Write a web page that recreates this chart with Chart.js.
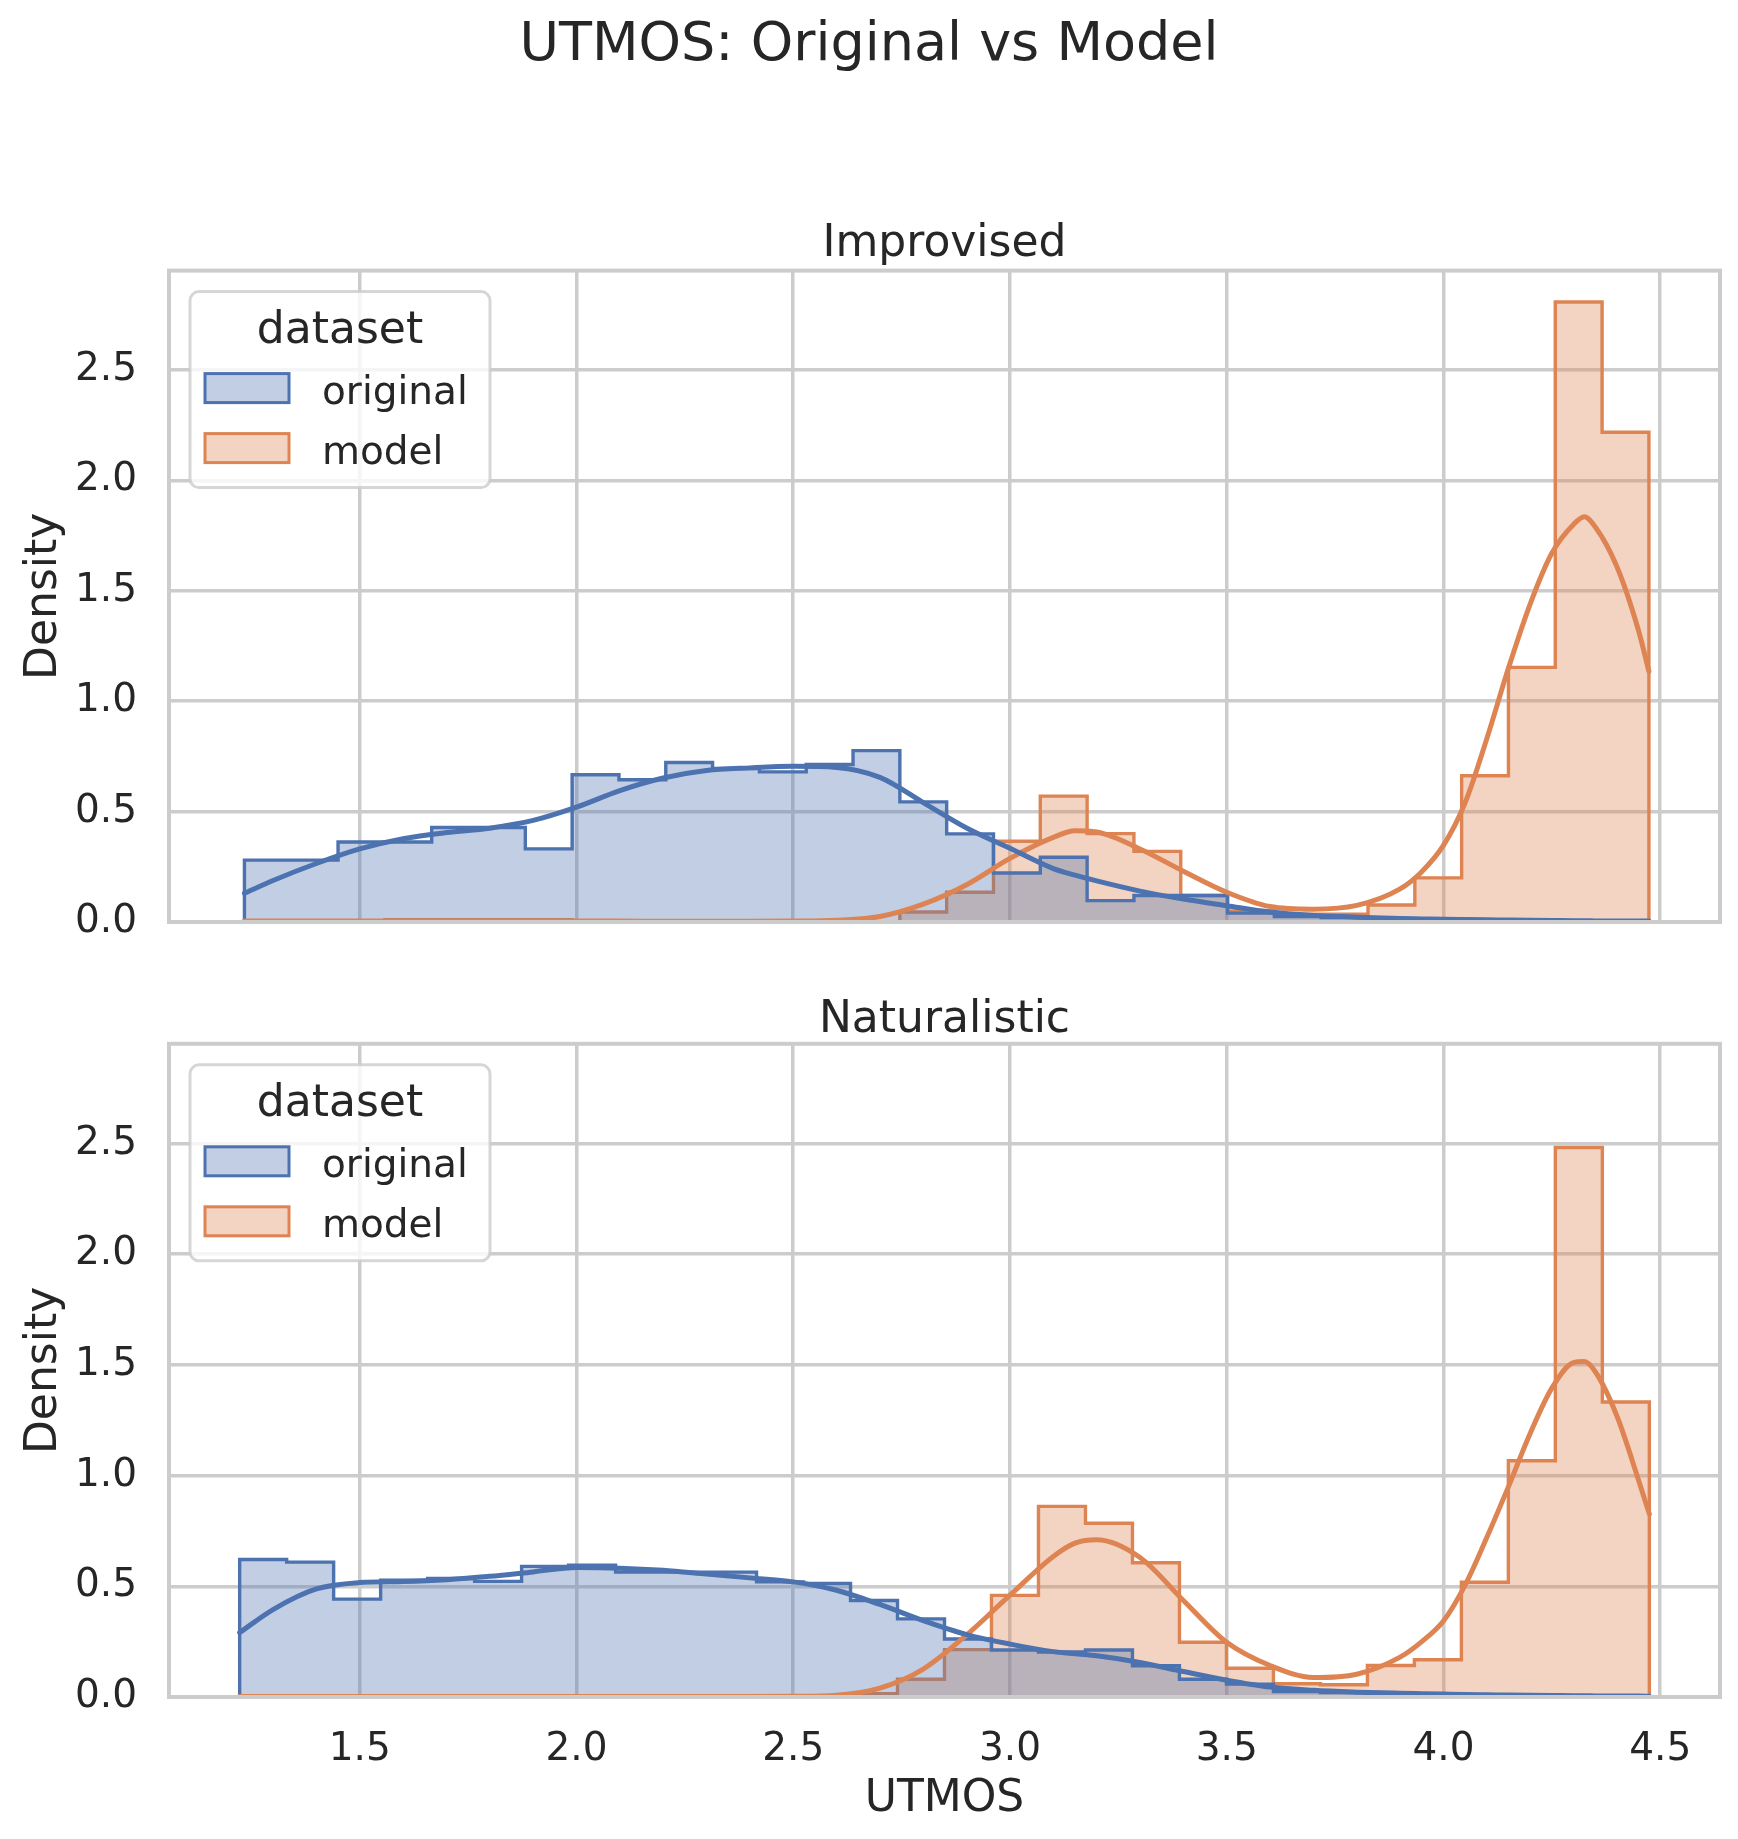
<!DOCTYPE html>
<html lang="en">
  <head>
    <meta charset="UTF-8" />
    <title>UTMOS: Original vs Model</title>
    <script src="https://cdn.jsdelivr.net/npm/chart.js"></script>
    <style>
      html, body { margin: 0; padding: 0; background: #fff; }
      #page { position: relative; width: 1738px; height: 1839px; }
      canvas { position: absolute; left: 0; }
      #improvisedChart { top: 0; }
      #naturalisticChart { top: 982px; }
    </style>
  </head>
  <body>
    <div id="page">
      <canvas id="improvisedChart" width="1738" height="982"></canvas>
      <canvas id="naturalisticChart" width="1738" height="857"></canvas>
    </div>

    <script>
      // ---- data ----
      const xTicks = [1.5, 2.0, 2.5, 3.0, 3.5, 4.0, 4.5];
      const yTicks = [0.0, 0.5, 1.0, 1.5, 2.0, 2.5];

      // histogram bins (30 per panel)
      const improvisedBinStart = 1.234;
      const improvisedBinWidth = 0.108;
      const naturalisticBinStart = 1.223;
      const naturalisticBinWidth = 0.1084;

      const improvisedOriginal = [0.28, 0.28, 0.362, 0.362, 0.428, 0.428, 0.331, 0.667, 0.644, 0.722,
        0.695, 0.68, 0.713, 0.776, 0.544, 0.399, 0.222, 0.293, 0.097, 0.12,
        0.12, 0.04, 0.025, 0.02, 0.012, 0.01, 0.008, 0.005, 0.004, 0.003];
      const improvisedModel = [0, 0, 0, 0.01, 0.01, 0.01, 0.01, 0, 0, 0,
        0, 0, 0, 0, 0.045, 0.135, 0.366, 0.57, 0.4, 0.32,
        0.12, 0.05, 0.035, 0.035, 0.077, 0.2, 0.662, 1.153, 2.808, 2.218];

      const naturalisticOriginal = [0.621, 0.609, 0.442, 0.527, 0.535, 0.522, 0.59, 0.595, 0.564, 0.564,
        0.564, 0.52, 0.513, 0.436, 0.353, 0.262, 0.212, 0.203, 0.212, 0.141,
        0.08, 0.058, 0.025, 0.02, 0.017, 0.015, 0.01, 0.008, 0.005, 0.004];
      const naturalisticModel = [0, 0, 0, 0, 0, 0, 0, 0, 0, 0,
        0, 0, 0.005, 0.015, 0.08, 0.214, 0.459, 0.861, 0.785, 0.606,
        0.247, 0.13, 0.06, 0.055, 0.142, 0.168, 0.518, 1.067, 2.482, 1.332];

      // kde curves
      const improvisedKdeX = [1.234, 1.3, 1.4, 1.5, 1.6, 1.7, 1.8, 1.9, 2.0, 2.1, 2.2, 2.3, 2.4, 2.5,
        2.6, 2.7, 2.8, 2.9, 3.0, 3.1, 3.15, 3.2, 3.3, 3.4, 3.5, 3.6, 3.7, 3.8, 3.9, 3.95, 4.0,
        4.05, 4.1, 4.15, 4.2, 4.25, 4.3, 4.325, 4.35, 4.4, 4.45, 4.474];
      const improvisedOriginalKde = [0.13, 0.188, 0.265, 0.331, 0.377, 0.405, 0.425, 0.46, 0.52, 0.595,
        0.652, 0.686, 0.698, 0.705, 0.7, 0.655, 0.541, 0.426, 0.334, 0.242, 0.212, 0.186, 0.14, 0.104,
        0.074, 0.045, 0.03, 0.022, 0.016, 0.014, 0.012, 0.011, 0.01, 0.009, 0.008, 0.007, 0.006, 0.006,
        0.005, 0.005, 0.004, 0.004];
      const improvisedModelKde = [0.004, 0.004, 0.004, 0.005, 0.005, 0.005, 0.005, 0.005, 0.004, 0.004,
        0.003, 0.003, 0.003, 0.004, 0.008, 0.025, 0.081, 0.169, 0.288, 0.383, 0.413, 0.408, 0.331,
        0.23, 0.135, 0.07, 0.058, 0.075, 0.15, 0.228, 0.347, 0.54, 0.83, 1.15, 1.44, 1.67, 1.8, 1.835,
        1.79, 1.61, 1.32, 1.135];

      const naturalisticKdeX = [1.223, 1.3, 1.4, 1.5, 1.6, 1.7, 1.8, 1.9, 2.0, 2.1, 2.2, 2.3, 2.4, 2.5,
        2.6, 2.7, 2.8, 2.9, 3.0, 3.1, 3.15, 3.2, 3.3, 3.4, 3.5, 3.6, 3.7, 3.8, 3.9, 3.95, 4.0,
        4.05, 4.1, 4.15, 4.2, 4.25, 4.3, 4.325, 4.35, 4.4, 4.45, 4.475];
      const naturalisticOriginalKde = [0.291, 0.395, 0.488, 0.517, 0.522, 0.53, 0.545, 0.565, 0.585, 0.582,
        0.572, 0.555, 0.538, 0.52, 0.482, 0.418, 0.345, 0.282, 0.239, 0.205, 0.195, 0.186, 0.156,
        0.115, 0.076, 0.045, 0.03, 0.022, 0.017, 0.015, 0.013, 0.011, 0.01, 0.009, 0.008, 0.007, 0.006,
        0.006, 0.005, 0.005, 0.004, 0.003];
      const naturalisticModelKde = [0.002, 0.002, 0.002, 0.002, 0.002, 0.002, 0.002, 0.002, 0.002, 0.002,
        0.002, 0.002, 0.002, 0.003, 0.008, 0.04, 0.126, 0.28, 0.46, 0.635, 0.695, 0.71, 0.63, 0.436,
        0.247, 0.142, 0.088, 0.103, 0.18, 0.25, 0.343, 0.505, 0.72, 0.95, 1.19, 1.395, 1.51, 1.515,
        1.47, 1.27, 0.98, 0.826];

      // ---- styling ----
      const BLUE = "#4c72b0";
      const ORANGE = "#dd8452";
      const BLUE_FILL = "rgba(76, 114, 176, 0.35)";
      const ORANGE_FILL = "rgba(221, 132, 82, 0.35)";
      const GRID = "#cccccc";
      const TEXT = "#262626";

      Chart.defaults.font.family = '"DejaVu Sans", sans-serif';
      Chart.defaults.color = TEXT;

      function stepPoints(start, width, heights) {
        const pts = [{ x: start, y: 0 }];
        heights.forEach((h, i) => pts.push({ x: start + i * width, y: h }));
        const end = start + heights.length * width;
        pts.push({ x: end, y: heights[heights.length - 1] });
        pts.push({ x: end, y: 0 });
        return pts;
      }

      function curvePoints(xs, ys) {
        return xs.map((x, i) => ({ x: x, y: ys[i] }));
      }

      function makeDatasets(start, width, orig, model, kdeX, origKde, modelKde) {
        return [
          {
            label: "original", hist: true, data: stepPoints(start, width, orig),
            stepped: true, fill: "origin", borderColor: BLUE, backgroundColor: BLUE_FILL,
            borderWidth: 3.4, pointRadius: 0, order: 3,
          },
          {
            label: "model", hist: true, data: stepPoints(start, width, model),
            stepped: true, fill: "origin", borderColor: ORANGE, backgroundColor: ORANGE_FILL,
            borderWidth: 3.4, pointRadius: 0, order: 4,
          },
          {
            label: "original kde", data: curvePoints(kdeX, origKde), fill: false,
            borderColor: BLUE, borderWidth: 5, pointRadius: 0,
            cubicInterpolationMode: "monotone", borderCapStyle: "round", order: 1,
          },
          {
            label: "model kde", data: curvePoints(kdeX, modelKde), fill: false,
            borderColor: ORANGE, borderWidth: 5, pointRadius: 0,
            cubicInterpolationMode: "monotone", borderCapStyle: "round", order: 2,
          },
        ];
      }

      function makeScales(showX) {
        return {
          x: {
            type: "linear", min: 1.06, max: 4.638,
            afterBuildTicks: (s) => { s.ticks = xTicks.map((v) => ({ value: v })); },
            afterFit: (s) => { s.height = showX ? 142 : 60; },
            grid: { color: GRID, lineWidth: 3.5, drawTicks: false },
            border: { display: false },
            ticks: {
              display: showX, padding: 29, font: { size: 39 }, color: TEXT,
              maxRotation: 0, autoSkip: false,
              callback: (v) => Number(v).toFixed(1),
            },
            title: {
              display: showX, text: "UTMOS", font: { size: 44 }, color: TEXT,
              padding: { top: 0, bottom: 13.5 },
            },
          },
          y: {
            type: "linear", min: 0, max: 2.95,
            afterBuildTicks: (s) => { s.ticks = yTicks.map((v) => ({ value: v })); },
            afterFit: (s) => { s.width = 151; },
            grid: { color: GRID, lineWidth: 3.5, drawTicks: false },
            border: { display: false },
            ticks: {
              padding: 32, font: { size: 39 }, color: TEXT,
              callback: (v) => Number(v).toFixed(1),
            },
            title: {
              display: true, text: "Density", font: { size: 44 }, color: TEXT,
              padding: { top: 0, bottom: 0 },
            },
          },
        };
      }

      // axes frame drawn over the fills, like matplotlib spines
      const framePlugin = {
        id: "axesFrame",
        afterDatasetsDraw(chart) {
          const { ctx, chartArea: a } = chart;
          ctx.save();
          ctx.strokeStyle = GRID;
          ctx.lineWidth = 4;
          ctx.strokeRect(a.left, a.top, a.right - a.left, a.bottom - a.top);
          ctx.restore();
        },
      };

      // seaborn style legend box with a "dataset" title
      const hueLegendPlugin = {
        id: "hueLegend",
        afterDatasetsDraw(chart) {
          const { ctx, chartArea: a } = chart;
          const x0 = a.left + 21, y0 = a.top + 21, w = 300, h = 196;
          ctx.save();
          ctx.beginPath();
          ctx.roundRect(x0, y0, w, h, 9);
          ctx.fillStyle = "rgba(255, 255, 255, 0.8)";
          ctx.fill();
          ctx.lineWidth = 3;
          ctx.strokeStyle = "rgba(204, 204, 204, 0.8)";
          ctx.stroke();

          ctx.fillStyle = TEXT;
          ctx.textBaseline = "alphabetic";
          ctx.textAlign = "center";
          ctx.font = '44px "DejaVu Sans"';
          ctx.fillText("dataset", x0 + 150, y0 + 51);

          ctx.textAlign = "left";
          ctx.font = '39px "DejaVu Sans"';
          const items = chart.data.datasets.filter((d) => d.hist);
          items.forEach((d, i) => {
            const py = y0 + 82 + i * 60;
            ctx.fillStyle = d.backgroundColor;
            ctx.fillRect(x0 + 15, py, 84, 29);
            ctx.lineWidth = 3;
            ctx.strokeStyle = d.borderColor;
            ctx.strokeRect(x0 + 15, py, 84, 29);
            ctx.fillStyle = TEXT;
            ctx.fillText(d.label, x0 + 132, py + 30);
          });
          ctx.restore();
        },
      };

      new Chart(document.getElementById("improvisedChart"), {
        type: "line",
        data: {
          datasets: makeDatasets(improvisedBinStart, improvisedBinWidth, improvisedOriginal,
            improvisedModel, improvisedKdeX, improvisedOriginalKde, improvisedModelKde),
        },
        options: {
          responsive: false,
          animation: false,
          events: [],
          layout: { padding: { left: 18, right: 18, top: 0, bottom: 0 } },
          scales: makeScales(false),
          plugins: {
            legend: { display: false },
            tooltip: { enabled: false },
            title: {
              display: true, text: "UTMOS: Original vs Model", color: TEXT,
              font: { size: 54, weight: "normal" }, padding: { top: 14, bottom: 139 },
            },
            subtitle: {
              display: true, text: "Improvised", color: TEXT, fullSize: false,
              font: { size: 44, weight: "normal" }, padding: { top: 0, bottom: 0 },
            },
          },
        },
        plugins: [framePlugin, hueLegendPlugin],
      });

      new Chart(document.getElementById("naturalisticChart"), {
        type: "line",
        data: {
          datasets: makeDatasets(naturalisticBinStart, naturalisticBinWidth, naturalisticOriginal,
            naturalisticModel, naturalisticKdeX, naturalisticOriginalKde, naturalisticModelKde),
        },
        options: {
          responsive: false,
          animation: false,
          events: [],
          layout: { padding: { left: 18, right: 18, top: 0, bottom: 0 } },
          scales: makeScales(true),
          plugins: {
            legend: { display: false },
            tooltip: { enabled: false },
            title: {
              display: true, text: "Naturalistic", color: TEXT, fullSize: false,
              font: { size: 44, weight: "normal" }, padding: { top: 12, bottom: -3 },
            },
          },
        },
        plugins: [framePlugin, hueLegendPlugin],
      });
    </script>
  </body>
</html>
